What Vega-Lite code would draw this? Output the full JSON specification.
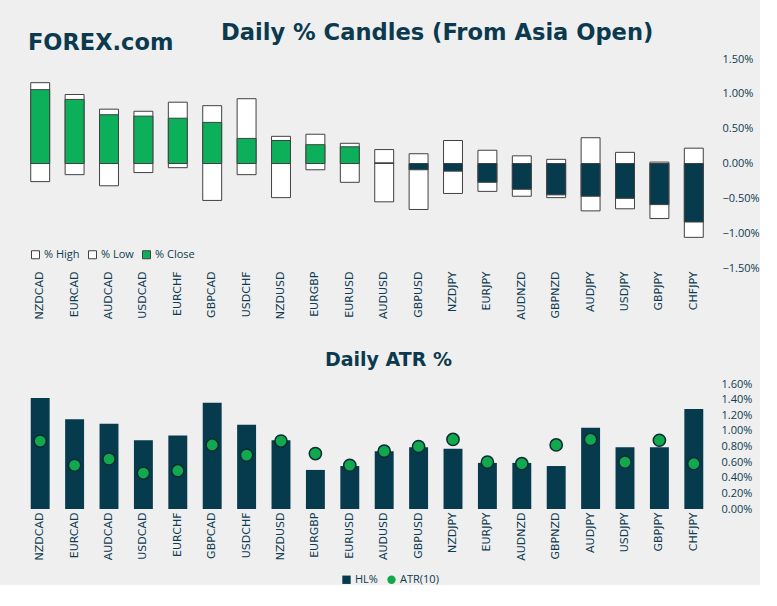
{
  "$schema": "https://vega.github.io/schema/vega-lite/v6.json",
  "background": "#efefef",
  "padding": {"left": 23, "top": 22, "right": 0, "bottom": 0},
  "spacing": 31,
  "title": {"text": "FOREX.com", "anchor": "start", "frame": "group", "dx": 5, "dy": 2, "offset": -30, "font": "DejaVu Sans", "fontSize": 22.5, "fontWeight": "bold", "color": "#0b3a4e", "baseline": "top"},
  "resolve": {"scale": {"fill": "independent", "shape": "independent", "x": "independent", "y": "independent"}, "legend": {"fill": "independent", "shape": "independent"}},
  "config": {
    "view": {"stroke": null},
    "font": "Open Sans",
    "axis": {"domain": false, "ticks": false, "tickSize": 0, "grid": false, "title": null, "labelColor": "#0d3b4f", "labelOverlap": false},
    "legend": {"labelColor": "#0d3b4f", "labelFont": "Open Sans", "labelFontSize": 11}
  },
  "datasets": {
    "candles": [
      {"pair": "NZDCAD", "% High": 1.16, "% Low": -0.26, "% Close": 1.06},
      {"pair": "EURCAD", "% High": 0.99, "% Low": -0.16, "% Close": 0.92},
      {"pair": "AUDCAD", "% High": 0.78, "% Low": -0.32, "% Close": 0.70},
      {"pair": "USDCAD", "% High": 0.75, "% Low": -0.13, "% Close": 0.68},
      {"pair": "EURCHF", "% High": 0.88, "% Low": -0.06, "% Close": 0.65},
      {"pair": "GBPCAD", "% High": 0.83, "% Low": -0.53, "% Close": 0.59},
      {"pair": "USDCHF", "% High": 0.93, "% Low": -0.16, "% Close": 0.36},
      {"pair": "NZDUSD", "% High": 0.39, "% Low": -0.49, "% Close": 0.33},
      {"pair": "EURGBP", "% High": 0.42, "% Low": -0.09, "% Close": 0.27},
      {"pair": "EURUSD", "% High": 0.29, "% Low": -0.27, "% Close": 0.24},
      {"pair": "AUDUSD", "% High": 0.20, "% Low": -0.55, "% Close": 0.01},
      {"pair": "GBPUSD", "% High": 0.14, "% Low": -0.66, "% Close": -0.09},
      {"pair": "NZDJPY", "% High": 0.33, "% Low": -0.43, "% Close": -0.11},
      {"pair": "EURJPY", "% High": 0.19, "% Low": -0.40, "% Close": -0.27},
      {"pair": "AUDNZD", "% High": 0.11, "% Low": -0.47, "% Close": -0.37},
      {"pair": "GBPNZD", "% High": 0.06, "% Low": -0.49, "% Close": -0.45},
      {"pair": "AUDJPY", "% High": 0.37, "% Low": -0.68, "% Close": -0.47},
      {"pair": "USDJPY", "% High": 0.16, "% Low": -0.65, "% Close": -0.50},
      {"pair": "GBPJPY", "% High": 0.02, "% Low": -0.79, "% Close": -0.59},
      {"pair": "CHFJPY", "% High": 0.22, "% Low": -1.06, "% Close": -0.84}
    ],
    "atr": [
      {"pair": "NZDCAD", "HL%": 1.42, "ATR(10)": 0.87},
      {"pair": "EURCAD", "HL%": 1.15, "ATR(10)": 0.56},
      {"pair": "AUDCAD", "HL%": 1.09, "ATR(10)": 0.64},
      {"pair": "USDCAD", "HL%": 0.88, "ATR(10)": 0.46},
      {"pair": "EURCHF", "HL%": 0.94, "ATR(10)": 0.49},
      {"pair": "GBPCAD", "HL%": 1.36, "ATR(10)": 0.82},
      {"pair": "USDCHF", "HL%": 1.08, "ATR(10)": 0.69},
      {"pair": "NZDUSD", "HL%": 0.88, "ATR(10)": 0.87},
      {"pair": "EURGBP", "HL%": 0.50, "ATR(10)": 0.71},
      {"pair": "EURUSD", "HL%": 0.55, "ATR(10)": 0.56},
      {"pair": "AUDUSD", "HL%": 0.74, "ATR(10)": 0.74},
      {"pair": "GBPUSD", "HL%": 0.79, "ATR(10)": 0.80},
      {"pair": "NZDJPY", "HL%": 0.77, "ATR(10)": 0.89},
      {"pair": "EURJPY", "HL%": 0.59, "ATR(10)": 0.60},
      {"pair": "AUDNZD", "HL%": 0.59, "ATR(10)": 0.58},
      {"pair": "GBPNZD", "HL%": 0.55, "ATR(10)": 0.82},
      {"pair": "AUDJPY", "HL%": 1.04, "ATR(10)": 0.89},
      {"pair": "USDJPY", "HL%": 0.79, "ATR(10)": 0.60},
      {"pair": "GBPJPY", "HL%": 0.79, "ATR(10)": 0.88},
      {"pair": "CHFJPY", "HL%": 1.28, "ATR(10)": 0.58}
    ]
  },
  "vconcat": [
    {
      "width": 688,
      "height": 209,
      "title": {"text": "Daily % Candles (From Asia Open)", "anchor": "start", "frame": "group", "dx": 198, "offset": 8, "font": "DejaVu Sans", "fontSize": 22.6, "fontWeight": "bold", "color": "#0b3a4e", "baseline": "top"},
      "data": {"name": "candles"},
      "encoding": {
        "x": {"field": "pair", "type": "nominal", "sort": null,
          "scale": {"paddingInner": 0.45, "paddingOuter": 0.225},
          "axis": {"labelAngle": -90, "labelFont": "DejaVu Sans", "labelFontSize": 11, "labelPadding": 3}}
      },
      "layer": [
        {
          "transform": [{"fold": ["% High", "% Low", "% Close"], "as": ["key", "value"]}],
          "mark": {"type": "bar", "stroke": "#404040", "strokeWidth": 1, "opacity": 1},
          "encoding": {
            "y": {"field": "value", "type": "quantitative", "stack": null,
              "scale": {"domain": [-1.5, 1.5], "nice": false},
              "axis": {"orient": "right", "values": [-1.5, -1, -0.5, 0, 0.5, 1, 1.5], "labelOverlap": false, "labelExpr": "format(datum.value, '.2f') + '%'", "labelFontSize": 11, "labelPadding": 11}},
            "y2": {"datum": 0},
            "fill": {
              "condition": {"test": "datum.key === '% Close' && datum.value < 0", "value": "#063a4d"},
              "field": "key", "type": "nominal",
              "scale": {"domain": ["% High", "% Low", "% Close"], "range": ["#ffffff", "#ffffff", "#0db05a"]},
              "legend": {"title": null, "orient": "bottom-left", "direction": "horizontal", "offset": 7, "symbolType": "square", "symbolSize": 64, "symbolStrokeColor": "#404040", "symbolStrokeWidth": 1, "symbolOpacity": 1, "columnPadding": 6, "labelOffset": 3}
            }
          }
        },
        {
          "mark": {"type": "rule", "color": "#dcdcdc", "strokeWidth": 1},
          "encoding": {"y": {"datum": 0, "type": "quantitative", "axis": {"orient": "right", "values": [-1.5, -1, -0.5, 0, 0.5, 1, 1.5], "labelOverlap": false, "labelExpr": "format(datum.value, '.2f') + '%'", "labelFontSize": 11, "labelPadding": 11}}}
        }
      ]
    },
    {
      "width": 688,
      "height": 125,
      "title": {"text": "Daily ATR %", "anchor": "start", "frame": "group", "dx": 302, "offset": 8, "font": "DejaVu Sans", "fontSize": 19, "fontWeight": "bold", "color": "#0b3a4e", "baseline": "top"},
      "data": {"name": "atr"},
      "transform": [{"fold": ["HL%", "ATR(10)"], "as": ["key", "value"]}],
      "encoding": {
        "x": {"field": "pair", "type": "nominal", "sort": null,
          "scale": {"paddingInner": 0.45, "paddingOuter": 0.225},
          "axis": {"labelAngle": -90, "labelFont": "DejaVu Sans", "labelFontSize": 11, "labelPadding": 3}},
        "y": {"field": "value", "type": "quantitative",
          "scale": {"domain": [0, 1.6], "nice": false},
          "axis": {"orient": "right", "values": [0, 0.2, 0.4, 0.6, 0.8, 1, 1.2, 1.4, 1.6], "labelExpr": "format(datum.value, '.2f') + '%'", "labelFontSize": 11, "labelPadding": 10}},
        "fill": {"field": "key", "type": "nominal",
          "scale": {"domain": ["HL%", "ATR(10)"], "range": ["#063a4d", "#12a84e"]},
          "legend": {"title": null, "orient": "none", "legendX": 318, "legendY": 190, "direction": "horizontal", "symbolSize": 70, "columnPadding": 8, "labelOffset": 3}},
        "shape": {"field": "key", "type": "nominal",
          "scale": {"domain": ["HL%", "ATR(10)"], "range": ["square", "circle"]},
          "legend": {"title": null, "orient": "none", "legendX": 318, "legendY": 190, "direction": "horizontal", "symbolSize": 70, "columnPadding": 8, "labelOffset": 3}}
      },
      "layer": [
        {
          "transform": [{"filter": "datum.key === 'HL%'"}],
          "mark": {"type": "bar", "opacity": 1}
        },
        {
          "transform": [{"filter": "datum.key === 'ATR(10)'"}],
          "mark": {"type": "point", "filled": true, "size": 150, "stroke": "#0b2b36", "strokeWidth": 1.5, "opacity": 1}
        }
      ]
    }
  ]
}
